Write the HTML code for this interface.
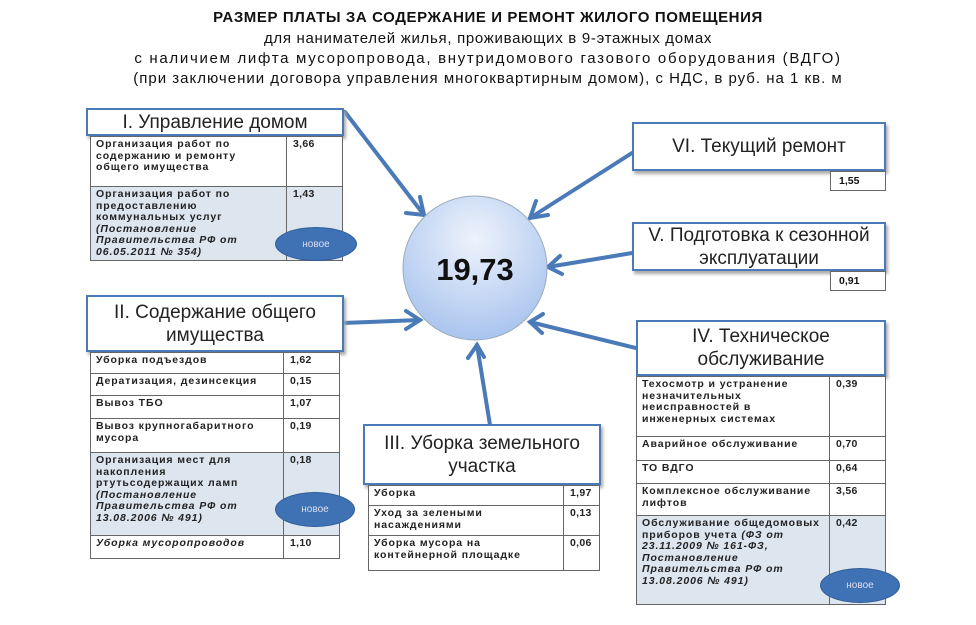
<!DOCTYPE html>
<html><head><meta charset="utf-8"><style>
body{margin:0;width:976px;height:625px;background:#fff;position:relative;overflow:hidden;font-family:"Liberation Sans","DejaVu Sans",sans-serif;color:#111}
.a{position:absolute}
.t{position:absolute;left:0;width:976px;text-align:center;font-size:15px;line-height:20px;white-space:nowrap}
.hb{position:absolute;background:#fff;border:2px solid #4a7ab8;box-shadow:2px 3px 3px #aaa;text-align:center;font-size:19px;line-height:23px;box-sizing:border-box;display:flex;align-items:center;justify-content:center;color:#222}
table{position:absolute;border-collapse:collapse;font-size:10.5px;font-weight:bold;line-height:11.5px;color:#222;letter-spacing:0.9px;table-layout:fixed}
td{border:1.5px solid #666;vertical-align:top;padding:2px 5px;background:#fff;overflow:hidden}
td.v{width:44px;padding-left:6px;letter-spacing:0.3px}
.bl td{background:#dde5ef}
i{font-weight:bold}
.ell{position:absolute;background:#3f72b4;border-radius:50%;color:#dde;font-size:10px;display:flex;align-items:center;justify-content:center;border:1px solid #2f5d98}
.vb{position:absolute;border:1.5px solid #666;font-size:10.5px;font-weight:bold;padding:3px 8px;box-sizing:border-box;background:#fff}
</style></head><body>
<div class="t" style="top:8px;font-weight:bold;letter-spacing:0.6px">РАЗМЕР ПЛАТЫ ЗА СОДЕРЖАНИЕ И РЕМОНТ ЖИЛОГО ПОМЕЩЕНИЯ</div>
<div class="t" style="top:29px;letter-spacing:0.7px">для нанимателей жилья, проживающих в 9-этажных домах</div>
<div class="t" style="top:49px;letter-spacing:1.7px">с наличием лифта мусоропровода, внутридомового газового оборудования (ВДГО)</div>
<div class="t" style="top:69px;letter-spacing:1px">(при заключении договора управления многоквартирным домом), с НДС, в руб. на 1 кв. м</div>

<svg class="a" style="left:0;top:0" width="976" height="625">
<defs><radialGradient id="g" cx="50%" cy="30%" r="70%"><stop offset="0" stop-color="#eef3fc"/><stop offset="1" stop-color="#a9c4ee"/></radialGradient></defs>
<g stroke="#4a7ab8" stroke-width="4" fill="none" stroke-linecap="round">
<line x1="345" y1="112" x2="424" y2="215"/><polyline points="406,213 424,215 420,197"/>
<line x1="343" y1="323" x2="420" y2="320"/><polyline points="406,311 420,320 406,329"/>
<line x1="490" y1="425" x2="477" y2="345"/><polyline points="468,358 477,345 484,357"/>
<line x1="632" y1="153" x2="530" y2="218"/><polyline points="536,201 530,218 548,215"/>
<line x1="632" y1="253" x2="548" y2="267"/><polyline points="560,256 548,267 562,274"/>
<line x1="636" y1="348" x2="530" y2="322"/><polyline points="543,314 530,322 542,333"/>
</g>
<circle cx="475" cy="268" r="72" fill="url(#g)" stroke="#9ab" stroke-width="1"/>
<text x="475" y="280" text-anchor="middle" font-family="Liberation Sans" font-weight="bold" font-size="31" fill="#111">19,73</text>
</svg>

<div class="hb" style="left:86px;top:108px;width:258px;height:28px">I. Управление домом</div>
<table style="left:90px;top:136px;width:253px">
<tr style="height:50px"><td>Организация работ по содержанию и ремонту общего имущества</td><td class="v">3,66</td></tr>
<tr class="bl" style="height:72px"><td>Организация работ по предоставлению коммунальных услуг <i>(Постановление Правительства РФ от 06.05.2011 № 354)</i></td><td class="v">1,43</td></tr>
</table>
<div class="ell" style="left:275px;top:227px;width:80px;height:32px">новое</div>

<div class="hb" style="left:86px;top:295px;width:258px;height:57px">II. Содержание общего<br>имущества</div>
<table style="left:90px;top:352px;width:250px">
<tr style="height:21px"><td>Уборка подъездов</td><td class="v">1,62</td></tr>
<tr style="height:22px"><td>Дератизация, дезинсекция</td><td class="v">0,15</td></tr>
<tr style="height:23px"><td>Вывоз ТБО</td><td class="v">1,07</td></tr>
<tr style="height:34px"><td>Вывоз крупногабаритного мусора</td><td class="v">0,19</td></tr>
<tr class="bl" style="height:83px"><td>Организация мест для накопления ртутьсодержащих ламп <i>(Постановление Правительства РФ от 13.08.2006 № 491)</i></td><td class="v">0,18</td></tr>
<tr style="height:23px"><td><i>Уборка мусоропроводов</i></td><td class="v">1,10</td></tr>
</table>
<div class="ell" style="left:275px;top:492px;width:78px;height:33px">новое</div>

<div class="hb" style="left:363px;top:424px;width:238px;height:61px">III. Уборка земельного<br>участка</div>
<table style="left:368px;top:485px;width:232px">
<tr style="height:20px"><td>Уборка</td><td class="v" style="width:24px">1,97</td></tr>
<tr style="height:30px"><td>Уход за зелеными насаждениями</td><td class="v" style="width:24px">0,13</td></tr>
<tr style="height:35px"><td>Уборка мусора на контейнерной площадке</td><td class="v" style="width:24px">0,06</td></tr>
</table>

<div class="hb" style="left:632px;top:122px;width:254px;height:49px">VI. Текущий ремонт</div>
<div class="vb" style="left:830px;top:171px;width:56px;height:20px">1,55</div>
<div class="hb" style="left:632px;top:222px;width:254px;height:49px">V. Подготовка к сезонной<br>эксплуатации</div>
<div class="vb" style="left:830px;top:271px;width:56px;height:20px">0,91</div>

<div class="hb" style="left:636px;top:320px;width:250px;height:56px">IV. Техническое<br>обслуживание</div>
<table style="left:636px;top:376px;width:250px">
<tr style="height:60px"><td>Техосмотр и устранение незначительных неисправностей в инженерных системах</td><td class="v">0,39</td></tr>
<tr style="height:24px"><td>Аварийное обслуживание</td><td class="v">0,70</td></tr>
<tr style="height:23px"><td>ТО ВДГО</td><td class="v">0,64</td></tr>
<tr style="height:32px"><td>Комплексное обслуживание лифтов</td><td class="v">3,56</td></tr>
<tr class="bl" style="height:89px"><td>Обслуживание общедомовых приборов учета <i>(ФЗ от 23.11.2009 № 161-ФЗ, Постановление Правительства РФ от 13.08.2006 № 491)</i></td><td class="v">0,42</td></tr>
</table>
<div class="ell" style="left:820px;top:568px;width:78px;height:33px">новое</div>
</body></html>
